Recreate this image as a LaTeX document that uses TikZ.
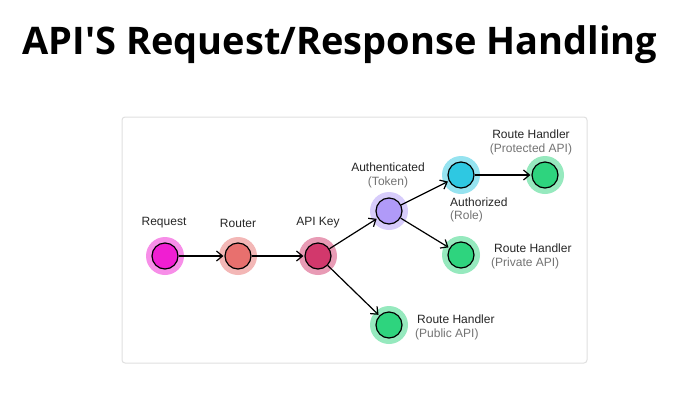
\documentclass[tikz,border=0pt]{standalone}
\usepackage{fontspec}
\usetikzlibrary{arrows.meta}
\setmainfont{Open Sans}
\newfontfamily\lab{Liberation Sans}
\definecolor{cReq}{HTML}{F01ED2}
\definecolor{cRou}{HTML}{E8706E}
\definecolor{cKey}{HTML}{D2386C}
\definecolor{cAut}{HTML}{B09AF8}
\definecolor{cAzd}{HTML}{2EC8E2}
\definecolor{cGrn}{HTML}{2ED47E}
\begin{document}
\begin{tikzpicture}[x=1pt,y=-1pt,
  glow/.style={circle,minimum size=38pt,inner sep=0pt,draw=none,fill=#1,opacity=0.5},
  lb/.style={font=\lab\fontsize{12}{14}\selectfont,text=black!85,align=center,inner sep=1pt},
  sub/.style={font=\lab\fontsize{12}{14}\selectfont,text=black!55,inner sep=1pt},
  ar/.style={-{Straight Barb[length=6pt,width=10pt,line width=1.2pt]},line width=1.2pt,shorten >=1pt}]
\useasboundingbox (0,0) rectangle (680,408);
\fill[white] (0,0) rectangle (680,408);
\node[font=\bfseries\fontsize{38}{40}\selectfont] (title) at (340,45) {API\textquotesingle S Request/Response Handling};
\draw[black!12,line width=1pt,rounded corners=3pt] (122,117) rectangle (587,363);
\foreach \n/\x/\y/\c in {req/165/256/cReq, rou/238/256/cRou, key/318/256/cKey, aut/389/211/cAut, azd/461/175/cAzd, pro/545/175/cGrn, pri/461/255/cGrn, pub/389/325/cGrn}{
  \node[glow=\c] (g\n) at (\x,\y) {};
  \node[circle,minimum size=26pt,inner sep=0pt,draw=black,line width=1.2pt,fill=\c] (\n) at (\x,\y) {};
}
\node[lb] (lreq) at (164,223) {Request};
\node[lb] (lrou) at (238,223) {Router};
\node[lb] (lkey) at (318,223) {API Key};
\node[lb] (laut) at (388,167) {Authenticated};
\node[sub] (saut) at (388,182) {(Token)};
\node[lb] (lpro) at (531,134) {Route Handler};
\node[sub] (spro) at (531,149) {(Protected API)};
\node[lb,anchor=west] (lazd) at (449,202) {Authorized};
\node[sub,anchor=west] (sazd) at (449,216) {(Role)};
\node[lb,anchor=west] (lpri) at (493,248) {Route Handler};
\node[sub,anchor=west] (spri) at (490,263) {(Private API)};
\node[lb,anchor=west] (lpub) at (416,319) {Route Handler};
\node[sub,anchor=west] (spub) at (414,334) {(Public API)};
\draw[ar] (req) -- (rou);
\draw[ar] (rou) -- (key);
\draw[ar] (key) -- (aut);
\draw[ar] (key) -- (pub);
\draw[ar] (aut) -- (azd);
\draw[ar] (aut) -- (pri);
\draw[ar] (azd) -- (pro);
\end{tikzpicture}
\end{document}
